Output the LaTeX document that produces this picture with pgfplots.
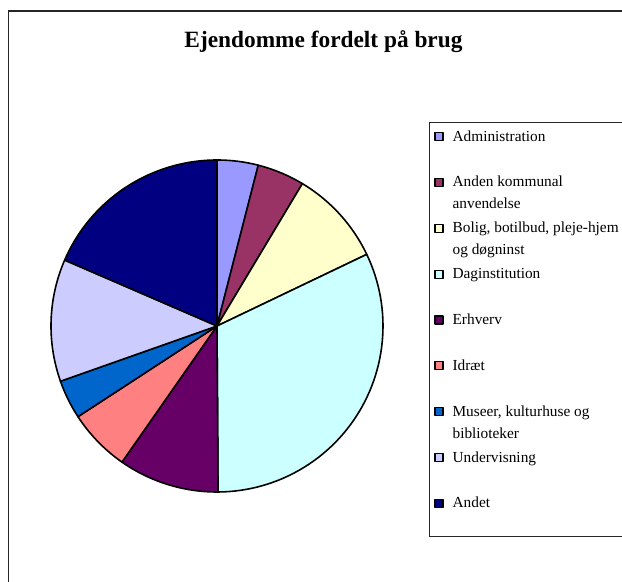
\documentclass[border=0pt]{standalone}
\usepackage{fontspec}
\setmainfont{Liberation Serif}
\usepackage{pgfplots}
\usepackage{pgfplotstable}
\pgfplotsset{compat=1.18}

\definecolor{c0}{HTML}{9999FF}
\definecolor{c1}{HTML}{993366}
\definecolor{c2}{HTML}{FFFFCC}
\definecolor{c3}{HTML}{CCFFFF}
\definecolor{c4}{HTML}{660066}
\definecolor{c5}{HTML}{FF8080}
\definecolor{c6}{HTML}{0066CC}
\definecolor{c7}{HTML}{CCCCFF}
\definecolor{c8}{HTML}{000080}

% share of properties per use (percent), clockwise from 12 o'clock
\pgfplotstableread{
share
4.0
4.6
9.3
32.0
9.8
6.1
3.8
11.9
18.5
}\piedata
\pgfplotstablecreatecol[create col/expr accum={\pgfmathaccuma + \thisrow{share}}{0}]{cum}\piedata

\newcommand\legtxt[1]{\parbox[t]{150pt}{\raggedright #1}}

\begin{document}
\begin{tikzpicture}
\path[use as bounding box] (0,0) rectangle (466.5pt,436.5pt);
\draw[black!85, line width=1.1pt] (6.4pt,-2pt) -- (6.4pt,428.25pt) -- (470pt,428.25pt);
\node[anchor=base, font=\fontsize{17.5}{20}\selectfont\bfseries] at (242.6pt,400.5pt) {Ejendomme fordelt på brug};

\begin{axis}[
    at={(162.75pt,192pt)}, anchor=center,
    scale only axis, width=249pt, height=249pt,
    xmin=-1, xmax=1, ymin=-1, ymax=1,
    hide axis, clip=false,
    legend image code/.code={\draw[#1, draw=black, line width=0.9pt] (0pt,0.4pt) rectangle (6pt,6.4pt);},
    legend style={
        draw=black!85, line width=0.6pt,
        at={(axis description cs:1.1386,1.1145)}, anchor=north west,
        inner xsep=3.75pt, inner ysep=6pt,
        row sep=26.35pt, column sep=6.75pt,
        font=\fontsize{11.5}{14}\selectfont,
        nodes={inner sep=0pt, text height=8pt, text depth=0pt},
        cells={anchor=base west},
    },
]
\pgfplotsinvokeforeach{0,...,8}{
    \pgfplotstablegetelem{#1}{cum}\of\piedata
    \pgfmathsetmacro\pe{3.6*\pgfplotsretval}
    \pgfplotstablegetelem{#1}{share}\of\piedata
    \pgfmathsetmacro\ps{\pe-3.6*\pgfplotsretval}
    \edef\doslice{\noexpand\addplot[fill=c#1, draw=black, line width=1.2pt, line join=round,
        domain=\ps:\pe, samples=60] ({sin(x)},{cos(x)}) -- (axis cs:0,0) -- cycle;}
    \doslice
}
\addlegendentry{\legtxt{Administration}}
\addlegendentry{\legtxt{Anden kommunal\\[2.5pt] anvendelse}}
\addlegendentry{\legtxt{Bolig, botilbud, pleje-hjem\\[2.5pt] og døgninst}}
\addlegendentry{\legtxt{Daginstitution}}
\addlegendentry{\legtxt{Erhverv}}
\addlegendentry{\legtxt{Idræt}}
\addlegendentry{\legtxt{Museer, kulturhuse og\\[2.5pt] biblioteker}}
\addlegendentry{\legtxt{Undervisning}}
\addlegendentry[text depth=15.5pt]{\legtxt{Andet}}
\end{axis}
\end{tikzpicture}
\end{document}
